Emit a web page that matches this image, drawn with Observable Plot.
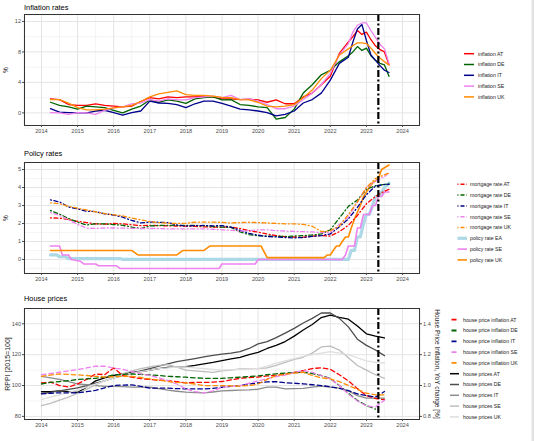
<!DOCTYPE html>
<html><head><meta charset="utf-8">
<script src="https://cdn.jsdelivr.net/npm/d3@7"></script>
<script src="https://cdn.jsdelivr.net/npm/@observablehq/plot@0.6"></script>
<style>
html,body{margin:0;padding:0;background:#fff;}
#root{position:relative;width:534px;height:441px;overflow:hidden;font-family:"Liberation Sans",Arial,sans-serif;background:#fff;}
#root svg{position:absolute;left:0;}
</style></head><body><div id="root"></div>
<script>
// ---------- DATA ----------
const years = [2014,2015,2016,2017,2018,2019,2020,2021,2022,2023,2024];
const cutoffDate = [2023.33];

// Inflation rates (%)
const inflTimes = [2014.25,2014.5,2014.75,2015,2015.25,2015.5,2015.75,2016,2016.25,2016.5,2016.75,2017,2017.25,2017.5,2017.75,2018,2018.25,2018.5,2018.75,2019,2019.25,2019.5,2019.75,2020,2020.25,2020.5,2020.75,2021,2021.25,2021.5,2021.75,2022,2022.25,2022.5,2022.625,2022.75,2022.875,2023,2023.125,2023.25,2023.375,2023.5,2023.625];
const inflAT = [1.85,1.75,1.1, 1.0,1.0,1.2,1.0, 0.9,0.8,0.9,1.5, 2.0,1.85,2.1,2.0, 2.1,2.1,2.2,2.1, 1.85,1.85,1.75,1.8, 1.7,1.4,1.7,1.2, 1.2,2.1,2.6,3.7, 4.8,7.8,9.3, 10.0,10.8,10.3,10.6,9.6,8.8,8.3,8.0,6.3];
const inflDE = [1.4,1.0,0.8, 0.5,0.9,0.8,0.7, 0.35,0.0,0.5,0.9, 1.7,1.4,1.7,1.55, 1.25,1.85,2.0,2.1, 1.7,1.75,1.1,1.0, 0.8,0.7,-0.8,-0.6, 0.5,2.6,3.7,5.0, 5.6,6.7,7.5, 8.0,8.7,8.2,8.5,7.5,6.9,6.5,6.3,4.8];
const inflIT = [0.55,0.1,0.05, 0.0,0.0,0.25,0.35, 0.05,-0.3,0.05,0.25, 1.55,1.3,1.25,1.1, 0.7,1.2,1.55,1.55, 1.25,0.9,0.5,0.4, 0.25,0.05,-0.4,-0.2, 0.25,1.3,1.75,2.6, 4.3,6.5,7.3, 9.3,11.0,11.6,9.5,7.6,6.9,6.2,5.6,5.3];
const inflSE = [0.05,0.0,-0.2, 0.05,0.0,-0.2,0.35, 0.65,0.8,1.2,1.3, 1.75,1.55,1.85,1.7, 1.7,2.0,2.1,2.2, 2.0,2.3,1.75,1.85, 1.55,1.1,0.55,0.55, 0.9,1.75,2.6,3.7, 5.2,7.6,9.1, 10.6,11.5,11.8,11.8,10.8,9.9,9.0,8.4,6.5];
const inflUK = [1.75,1.75,1.3, 0.7,0.4,0.4,0.5, 0.65,0.8,1.0,1.5, 2.1,2.5,2.7,2.9, 2.4,2.3,2.3,2.2, 2.05,2.0,1.75,1.7, 1.4,0.9,0.8,0.9, 1.1,2.0,3.0,4.5, 5.6,7.6,8.4, 8.8,9.2,9.2,9.1,8.5,7.8,7.2,6.7,6.3];
const inflLabels = ["inflation AT","inflation DE","inflation IT","inflation SE","inflation UK"];

// Mortgage rates (%)
const mortTimes = [2014.25,2014.5,2014.75,2015,2015.25,2015.5,2015.75,2016,2016.25,2016.5,2016.75,2017,2017.25,2017.5,2017.75,2018,2018.25,2018.5,2018.75,2019,2019.25,2019.5,2019.75,2020,2020.25,2020.5,2020.75,2021,2021.25,2021.5,2021.75,2022,2022.25,2022.5,2022.75,2023,2023.25,2023.5,2023.625];
const mortAT = [2.31,2.3,2.22, 2.12,2.05,1.98,1.96, 2.0,1.98,1.93,1.88, 1.9,1.88,1.87,1.86, 1.85,1.84,1.81,1.8, 1.8,1.8,1.72,1.6, 1.52,1.42,1.32,1.27, 1.25,1.24,1.3,1.33, 1.3,1.55,1.9,2.44, 3.1,3.5,3.8,3.9];
const mortDE = [2.72,2.52,2.28, 2.07,1.92,1.98,1.98, 1.94,1.9,1.8,1.72, 1.86,1.89,1.9,1.89, 1.9,1.89,1.88,1.83, 1.8,1.78,1.53,1.38, 1.32,1.3,1.28,1.28, 1.3,1.33,1.36,1.42, 1.65,2.3,2.95,3.3, 3.9,4.1,4.17,4.2];
const mortIT = [3.31,3.2,2.92, 2.81,2.68,2.66,2.54, 2.47,2.35,2.17,2.03, 2.08,2.07,2.05,1.92, 1.85,1.88,1.89,1.87, 1.88,1.8,1.62,1.45, 1.35,1.28,1.25,1.22, 1.2,1.22,1.28,1.33, 1.42,1.82,2.25,2.9, 3.6,4.08,4.17,4.17];
const mortSE = [2.6,2.45,2.2, 1.95,1.75,1.72,1.75, 1.75,1.74,1.73,1.72, 1.72,1.72,1.7,1.7, 1.7,1.7,1.7,1.68, 1.65,1.62,1.58,1.6, 1.65,1.65,1.6,1.58, 1.56,1.55,1.53,1.5, 1.5,1.95,2.35,3.2, 4.0,4.35,4.6,4.85];
const mortUK = [3.15,3.1,2.95, 2.85,2.75,2.65,2.55, 2.48,2.42,2.3,2.2, 2.1,2.05,2.02,2.0, 2.02,2.07,2.08,2.08, 2.06,2.03,2.05,2.07, 2.05,2.03,2.0,1.98, 1.98,1.95,1.85,1.55, 1.6,1.85,2.5,3.2, 4.0,4.5,4.7,4.8];
const mortLabels = ["mortgage rate AT","mortgage rate DE","mortgage rate IT","mortgage rate SE","mortgage rate UK"];

// Policy rates (%)
const polEATimes = [2014.25,2014.42,2014.5,2014.67,2014.75,2016.17,2016.25,2022.5,2022.58,2022.67,2022.75,2022.83,2022.92,2023.0,2023.08,2023.17,2023.25,2023.33,2023.42,2023.5,2023.625];
const polEA = [0.25,0.25,0.15,0.15,0.05,0.05,0.0,0.0,0.5,0.5,1.25,1.25,2.0,2.5,2.5,3.0,3.5,3.5,3.75,4.0,4.25];
const polSETimes = [2014.25,2014.5,2014.58,2014.75,2014.83,2015.08,2015.17,2015.5,2015.58,2016.08,2016.17,2018.92,2019.0,2019.92,2020.0,2022.33,2022.42,2022.5,2022.67,2022.75,2022.83,2022.92,2023.08,2023.17,2023.25,2023.33,2023.42,2023.5,2023.625];
const polSE = [0.75,0.75,0.25,0.25,0.0,-0.1,-0.25,-0.25,-0.35,-0.35,-0.5,-0.5,-0.25,-0.25,0.0,0.0,0.25,0.75,0.75,1.75,1.75,2.5,2.5,3.0,3.0,3.5,3.5,3.75,3.75];
const polUKTimes = [2014.25,2016.5,2016.67,2017.75,2017.92,2018.5,2018.67,2020.08,2020.25,2021.83,2021.92,2022.0,2022.08,2022.17,2022.25,2022.33,2022.42,2022.5,2022.58,2022.67,2022.83,2022.92,2023.08,2023.17,2023.33,2023.42,2023.625];
const polUK = [0.5,0.5,0.25,0.25,0.5,0.5,0.75,0.75,0.1,0.1,0.25,0.25,0.5,0.75,0.75,1.0,1.25,1.25,1.75,2.25,3.0,3.5,4.0,4.25,4.5,5.0,5.25];
const polLabels = ["policy rate EA","policy rate SE","policy rate UK"];

// House prices: RPPI [2015=100] and house price inflation (right axis)
const houseTimes = [2014,2014.25,2014.5,2014.75,2015,2015.25,2015.5,2015.75,2016,2016.25,2016.5,2016.75,2017,2017.25,2017.5,2017.75,2018,2018.25,2018.5,2018.75,2019,2019.25,2019.5,2019.75,2020,2020.25,2020.5,2020.75,2021,2021.25,2021.5,2021.75,2022,2022.25,2022.5,2022.75,2023,2023.25,2023.5];
const hpAT = [96,96,96.5,96, 95.5,99,103,105, 106.5,107.5,108.5,109, 110,111,111.8,112, 112.3,113,114,115, 116.2,117.2,118.3,120, 121.5,124,126,128.5, 132,136,139.5,144, 145.6,144.2,143,138.5, 133.5,132,130.8];
const hpDE = [95,95.5,96.5,97.5, 98.5,100,101.5,103, 105,106.5,108,109.5, 111,112.5,114,115.5, 116.5,117.5,118.5,119.5, 120.4,121,122,124, 127,128.4,131,134, 137,140.5,143.5,147, 147,143.5,138,130, 126,123,119.4];
const hpIT = [106,105,104,102.5, 101,100.5,100,99.5, 99.5,99.3,99,99, 98.9,98,97,96.3, 95.7,95.5,95.3,95.8, 96.5,96.8,97,97.2, 97.6,99,99,97.8, 98,98.2,99,99.6, 99,98.3,96.5,93.5, 91.8,91.8,91.8];
const hpSE = [87,88.5,90.5,92.5, 95,97.5,100.5,103, 105.5,107.5,109.5,111, 112,113,113.5,112, 110,109.5,109,108.5, 109.5,110,110.8,111, 111,111.5,113,115, 117,118.3,121,125, 125.5,123,118,113, 110,107,104.7];
const hpUK = [91,92.5,94,95.5, 97,99,101,103, 105,106.5,108,109, 110,111,111.5,112, 112,111.5,111,110.5, 110,110.3,110.5,110.8, 111,112.5,114.5,116, 117.5,118.9,120,121, 121.9,121,120,118, 116,115,114.6];
const hiAT = [1.017,1.022,1.0,0.99, 1.01,1.04,1.075,1.07, 1.114,1.065,1.054,1.045, 1.039,1.035,1.032,1.025, 1.017,1.02,1.02,1.022, 1.026,1.037,1.047,1.052, 1.055,1.062,1.066,1.074, 1.085,1.097,1.11,1.115, 1.105,1.07,1.03,0.98, 0.935,0.916,0.908];
const hiDE = [1.01,1.02,1.026,1.032, 1.039,1.043,1.047,1.055, 1.069,1.072,1.075,1.072, 1.069,1.065,1.06,1.057, 1.054,1.05,1.047,1.047, 1.047,1.05,1.054,1.058, 1.062,1.07,1.076,1.08, 1.084,1.086,1.078,1.065, 1.045,1.0,0.95,0.903, 0.871,0.847,null];
const hiIT = [0.946,0.95,0.953,0.953, 0.953,0.96,0.968,0.985, 1.0,1.003,1.004,0.995, 0.983,0.983,0.983,0.98, 0.978,0.978,0.978,0.982, 0.989,0.995,1.0,1.01, 1.017,1.024,1.025,1.018, 1.015,1.011,1.005,1.0, 0.992,0.982,0.967,0.946, 0.935,0.925,0.961];
const hiSE = [1.071,1.078,1.086,1.095, 1.103,1.114,1.125,1.125, 1.113,1.105,1.09,1.075, 1.065,1.05,1.032,1.01, 0.978,0.96,0.953,0.965, 0.989,0.995,1.0,1.015, 1.03,1.045,1.058,1.068, 1.085,1.097,1.085,1.065, 1.043,1.0,0.945,0.9, 0.868,0.86,0.905];
const hiUK = [1.06,1.068,1.075,1.072, 1.069,1.065,1.06,1.055, 1.057,1.06,1.06,1.052, 1.043,1.035,1.026,1.02, 1.017,1.01,1.0,1.0, 1.0,0.998,0.996,1.0, 1.01,1.04,1.065,1.073, 1.08,1.086,1.065,1.05, 1.043,1.025,1.0,0.975, 0.95,0.94,0.94];
const hiLabels = ["house price inflation AT","house price inflation DE","house price inflation IT","house price inflation SE","house price inflation UK"];
const hpLabels = ["house prices AT","house prices DE","house prices IT","house prices SE","house prices UK"];

// ---------- STYLE ----------
const ctry = ["red","darkgreen","darkblue","violet","darkorange"];
const grays = ["#000000","#4d4d4d","#8c8c8c","#bdbdbd","#dedede"];
const polColors = ["lightblue","violet","darkorange"];
const polWidths = [3.2,1.6,1.6];
const font = "Liberation Sans, Arial, sans-serif";
const xDomain = [2013.53, 2024.47];
const minorX = years.map(y => y - 0.5).concat([2024.5]);

function rows(times, values, name, scale = 1) {
  return times.map((t, i) => ({t, v: values[i] == null ? NaN : values[i] * scale, name}));
}

function panel({top, yDomain, yTicks, yMinor, marks, tickFormat, right}) {
  const svg = Plot.plot({
    width: 445, height: 139,
    marginLeft: 24, marginRight: 26, marginTop: 14, marginBottom: 14,
    style: {fontFamily: font, fontSize: "5.6px", background: "transparent", overflow: "visible"},
    x: {type: "linear", domain: xDomain},
    y: {type: "linear", domain: yDomain},
    marks: [
      Plot.gridX(minorX, {stroke: "#ececec", strokeOpacity: 1, strokeWidth: 0.6}),
      Plot.gridY(yMinor, {stroke: "#ececec", strokeOpacity: 1, strokeWidth: 0.6}),
      Plot.gridX(years, {stroke: "#e4e4e4", strokeOpacity: 1, strokeWidth: 1}),
      Plot.gridY(yTicks, {stroke: "#e4e4e4", strokeOpacity: 1, strokeWidth: 1}),
      ...marks,
      Plot.ruleX(cutoffDate, {stroke: "black", strokeWidth: 2.2, strokeDasharray: "7,2.5,2,2.5"}),
      Plot.frame({stroke: "#333", strokeWidth: 1}),
      Plot.axisX({ticks: years, tickFormat: d3.format("d"), tickSize: 2, tickPadding: 1.5, color: "#4d4d4d", label: null}),
      Plot.axisY({ticks: yTicks, tickFormat: tickFormat || (d => d), tickSize: 2, tickPadding: 1.5, color: "#4d4d4d", label: null}),
      ...(right || [])
    ]
  });
  svg.style.top = top + "px";
  document.getElementById("root").appendChild(svg);
}

// Panel 1: inflation
const inflSeries = [inflAT, inflDE, inflIT, inflSE, inflUK];
panel({
  top: 0,
  yDomain: [-1.65, 12.91], yTicks: [0,4,8,12], yMinor: [-2,2,6,10],
  marks: [
    ...inflSeries.map((s, i) => Plot.line(rows(inflTimes, s, inflLabels[i]), {x: "t", y: "v", stroke: ctry[i], strokeWidth: 1.3})),
    Plot.text(["%"], {frameAnchor: "left", dx: -19, rotate: -90, textAnchor: "middle", fontSize: 6.5, fill: "black"})
  ]
});

// Panel 2: policy rates
const mortSeries = [mortAT, mortDE, mortIT, mortSE, mortUK];
const polSeries = [[polEATimes, polEA], [polSETimes, polSE], [polUKTimes, polUK]];
panel({
  top: 148,
  yDomain: [-0.78, 5.39], yTicks: [0,1,2,3,4,5], yMinor: [-0.5,0.5,1.5,2.5,3.5,4.5],
  marks: [
    ...polSeries.map(([tt, vv], i) => Plot.line(rows(tt, vv, polLabels[i]), {x: "t", y: "v", stroke: polColors[i], strokeWidth: polWidths[i]})),
    ...mortSeries.map((s, i) => Plot.line(rows(mortTimes, s, mortLabels[i]), {x: "t", y: "v", stroke: ctry[i], strokeWidth: 1.3, strokeDasharray: "1,2.5,4,2.5"})),
    Plot.text(["%"], {frameAnchor: "left", dx: -19, rotate: -90, textAnchor: "middle", fontSize: 6.5, fill: "black"})
  ]
});

// Panel 3: house prices
const hpSeries = [hpAT, hpDE, hpIT, hpSE, hpUK];
const hiSeries = [hiAT, hiDE, hiIT, hiSE, hiUK];
panel({
  top: 294,
  yDomain: [78, 149.9], yTicks: [80,100,120,140], yMinor: [90,110,130],
  marks: [
    ...hpSeries.map((s, i) => Plot.line(rows(houseTimes, s, hpLabels[i]), {x: "t", y: "v", stroke: grays[i], strokeWidth: 1.3})),
    ...hiSeries.map((s, i) => Plot.line(rows(houseTimes, s, hiLabels[i], 100), {x: "t", y: "v", stroke: ctry[i], strokeWidth: 1.3, strokeDasharray: "4.5,3"})),
    Plot.text(["RPPI [2015=100]"], {frameAnchor: "left", dx: -17, rotate: -90, textAnchor: "middle", fontSize: 7, fill: "#222"})
  ],
  right: [
    Plot.axisY({anchor: "right", ticks: [80,100,120,140], tickFormat: d => (d / 100).toFixed(1), tickSize: 2, tickPadding: 1.5, color: "#4d4d4d", label: null}),
    Plot.text(["House Price Inflation, YoY change [%]"], {frameAnchor: "right", dx: 18, rotate: 90, textAnchor: "middle", fontSize: 6.5, fill: "#222"})
  ]
});

// ---------- TITLES & LEGENDS ----------
const ov = d3.select("#root").append("svg")
  .attr("width", 534).attr("height", 441)
  .style("top", "0px").style("pointer-events", "none")
  .style("font-family", font);

[["Inflation rates", 9.6], ["Policy rates", 155.6], ["House prices", 301.4]].forEach(([t, y]) =>
  ov.append("text").attr("x", 24).attr("y", y).attr("font-size", 7.4).attr("fill", "black").text(t));

function legend(items, {x1, x2, tx, y0, dy}) {
  items.forEach((it, i) => {
    const y = y0 + i * dy;
    ov.append("line").attr("x1", x1).attr("x2", x2).attr("y1", y).attr("y2", y)
      .attr("stroke", it.color).attr("stroke-width", it.width || 1.5)
      .attr("stroke-dasharray", it.dash || null);
    ov.append("text").attr("x", tx).attr("y", y).attr("dy", "0.35em")
      .attr("font-size", 5.2).attr("fill", "#1a1a1a").text(it.label);
  });
}
legend(inflLabels.map((l, i) => ({label: l, color: ctry[i], width: 1.5})),
  {x1: 464, x2: 474, tx: 478, y0: 53.7, dy: 10.8});
legend(mortLabels.map((l, i) => ({label: l, color: ctry[i], width: 1.5, dash: "1,2,4,2"}))
  .concat(polLabels.map((l, i) => ({label: l, color: polColors[i], width: polWidths[i]}))),
  {x1: 457.5, x2: 467, tx: 470, y0: 184.3, dy: 10.8});
legend(hiLabels.map((l, i) => ({label: l, color: ctry[i], width: 1.8, dash: "0,1.5,5,3"}))
  .concat(hpLabels.map((l, i) => ({label: l, color: grays[i], width: 1.5}))),
  {x1: 450, x2: 459, tx: 463, y0: 319.7, dy: 10.8});

ov.append("rect").attr("x", 531.5).attr("y", 0).attr("width", 2.5).attr("height", 441).attr("fill", "#e3e3e3");
</script></body></html>
